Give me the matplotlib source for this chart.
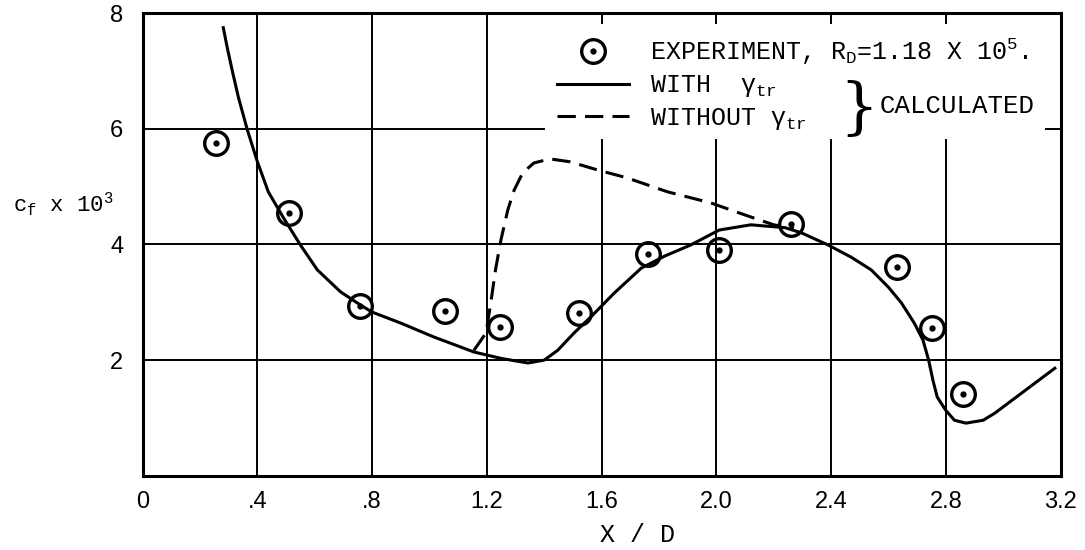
import numpy as np
import matplotlib
matplotlib.use("Agg")
import matplotlib.pyplot as plt
from matplotlib.lines import Line2D
from matplotlib.legend_handler import HandlerTuple
from matplotlib.patches import Rectangle

plt.rcParams['mathtext.fontset'] = 'custom'
plt.rcParams['mathtext.rm'] = 'Liberation Mono'
plt.rcParams['mathtext.it'] = 'Liberation Mono'

# experiment points
exp_x = [0.257, 0.509, 0.757, 1.053, 1.246, 1.521, 1.762, 2.01, 2.26, 2.63, 2.75, 2.86]
exp_y = [5.76, 4.55, 2.93, 2.85, 2.57, 2.81, 3.84, 3.90, 4.35, 3.61, 2.55, 1.41]

# calculated, with gamma_tr
with_x = [0.281, 0.295, 0.313, 0.334, 0.365, 0.400, 0.438, 0.491, 0.550, 0.609, 0.69,
          0.76, 0.80, 0.90, 1.015, 1.155, 1.249, 1.343, 1.40, 1.447, 1.504, 1.563,
          1.644, 1.738, 1.82, 1.91, 2.01, 2.12, 2.24, 2.297, 2.39, 2.47, 2.54, 2.60,
          2.645, 2.69, 2.72, 2.74, 2.755, 2.77, 2.80, 2.83, 2.87, 2.93, 2.97, 3.04,
          3.11, 3.18]
with_y = [7.75, 7.40, 6.99, 6.54, 5.98, 5.43, 4.91, 4.46, 3.99, 3.56, 3.18,
          2.95, 2.83, 2.64, 2.40, 2.14, 2.03, 1.95, 2.00, 2.17, 2.47, 2.75,
          3.16, 3.59, 3.80, 3.99, 4.25, 4.34, 4.29, 4.20, 3.99, 3.78, 3.56, 3.26,
          2.99, 2.64, 2.35, 2.00, 1.65, 1.36, 1.13, 0.96, 0.91, 0.96, 1.08, 1.34,
          1.60, 1.86]

# calculated, without gamma_tr
wo_x = [1.155, 1.197, 1.215, 1.23, 1.249, 1.273, 1.295, 1.325, 1.364, 1.42, 1.49,
        1.585, 1.69, 1.83, 1.98, 2.10, 2.20, 2.27]
wo_y = [2.17, 2.47, 3.04, 3.56, 4.08, 4.60, 4.94, 5.24, 5.41, 5.48, 5.43,
        5.29, 5.15, 4.91, 4.72, 4.51, 4.34, 4.28]

xticks = [0, 0.4, 0.8, 1.2, 1.6, 2.0, 2.4, 2.8, 3.2]
xlabels = ['0', '.4', '.8', '1.2', '1.6', '2.0', '2.4', '2.8', '3.2']
yticks = [2, 4, 6, 8]
ylabels = ['2', '4', '6', '8']

mono = 'Liberation Mono'
sans = 'Liberation Sans'

fig = plt.figure(figsize=(10.85, 5.5), dpi=100)
ax = fig.add_axes([0.1315, 0.135, 0.846, 0.841])

ax.set_xlim(0, 3.2)
ax.set_ylim(0, 8)
ax.set_xticks(xticks)
ax.set_xticklabels(xlabels, family=sans, fontsize=17)
ax.set_yticks(yticks)
ax.set_yticklabels(ylabels, family=sans, fontsize=17)
ax.tick_params(length=0, pad=14)
ax.tick_params(axis='x', pad=11)
ax.grid(True, color='black', lw=1.4)
for s in ax.spines.values():
    s.set_linewidth(2.2)

# white area behind the legend
ax.add_patch(Rectangle((0.438, 0.728), 0.545, 0.248, transform=ax.transAxes,
                       facecolor='white', edgecolor='none', zorder=1.8))

ax.plot(with_x, with_y, color='black', lw=2.2, zorder=3)
ax.plot(wo_x, wo_y, color='black', lw=2.2, dashes=(6, 3), zorder=3)
ax.plot(exp_x, exp_y, ls='none', marker='o', ms=17, mfc='none', mec='black', mew=2.4, zorder=4)
ax.plot(exp_x, exp_y, ls='none', marker='o', ms=3.5, color='black', zorder=4)

h_exp = (Line2D([], [], ls='none', marker='o', ms=17, mfc='none', mec='black', mew=2.4),
         Line2D([], [], ls='none', marker='o', ms=3.5, color='black'))
h_with = Line2D([], [], color='black', lw=2.2)
h_wo = Line2D([], [], color='black', lw=2.2, dashes=(6, 3))
leg = ax.legend([h_exp, h_with, h_wo],
                [r'EXPERIMENT, R$_\mathrm{D}$=1.18 X 10$^\mathrm{5}$.',
                 r'WITH  γ$_\mathrm{tr}$',
                 r'WITHOUT γ$_\mathrm{tr}$'],
                handler_map={tuple: HandlerTuple(ndivide=1, pad=0)},
                loc='upper left', bbox_to_anchor=(0.451, 0.95), frameon=False,
                borderpad=0, borderaxespad=0, handlelength=2.9, handletextpad=0.85,
                labelspacing=0.25, prop={'family': mono, 'size': 18})
leg.set_zorder(5)

ax.text(0.78, 0.79, '}', transform=ax.transAxes, fontsize=44, family='DejaVu Serif',
        ha='center', va='center', fontweight='light')
ax.text(0.803, 0.80, 'CALCULATED', transform=ax.transAxes, fontsize=18.5, family=mono,
        ha='left', va='center')

fig.text(0.012, 0.628, r'c$_\mathrm{f}$ x 10$^\mathrm{3}$', fontsize=16, family=mono,
         ha='left', va='center')
fig.text(0.588, 0.027, 'X / D', fontsize=18, family=mono, ha='center', va='center')

fig.savefig('out.png', dpi=100)
